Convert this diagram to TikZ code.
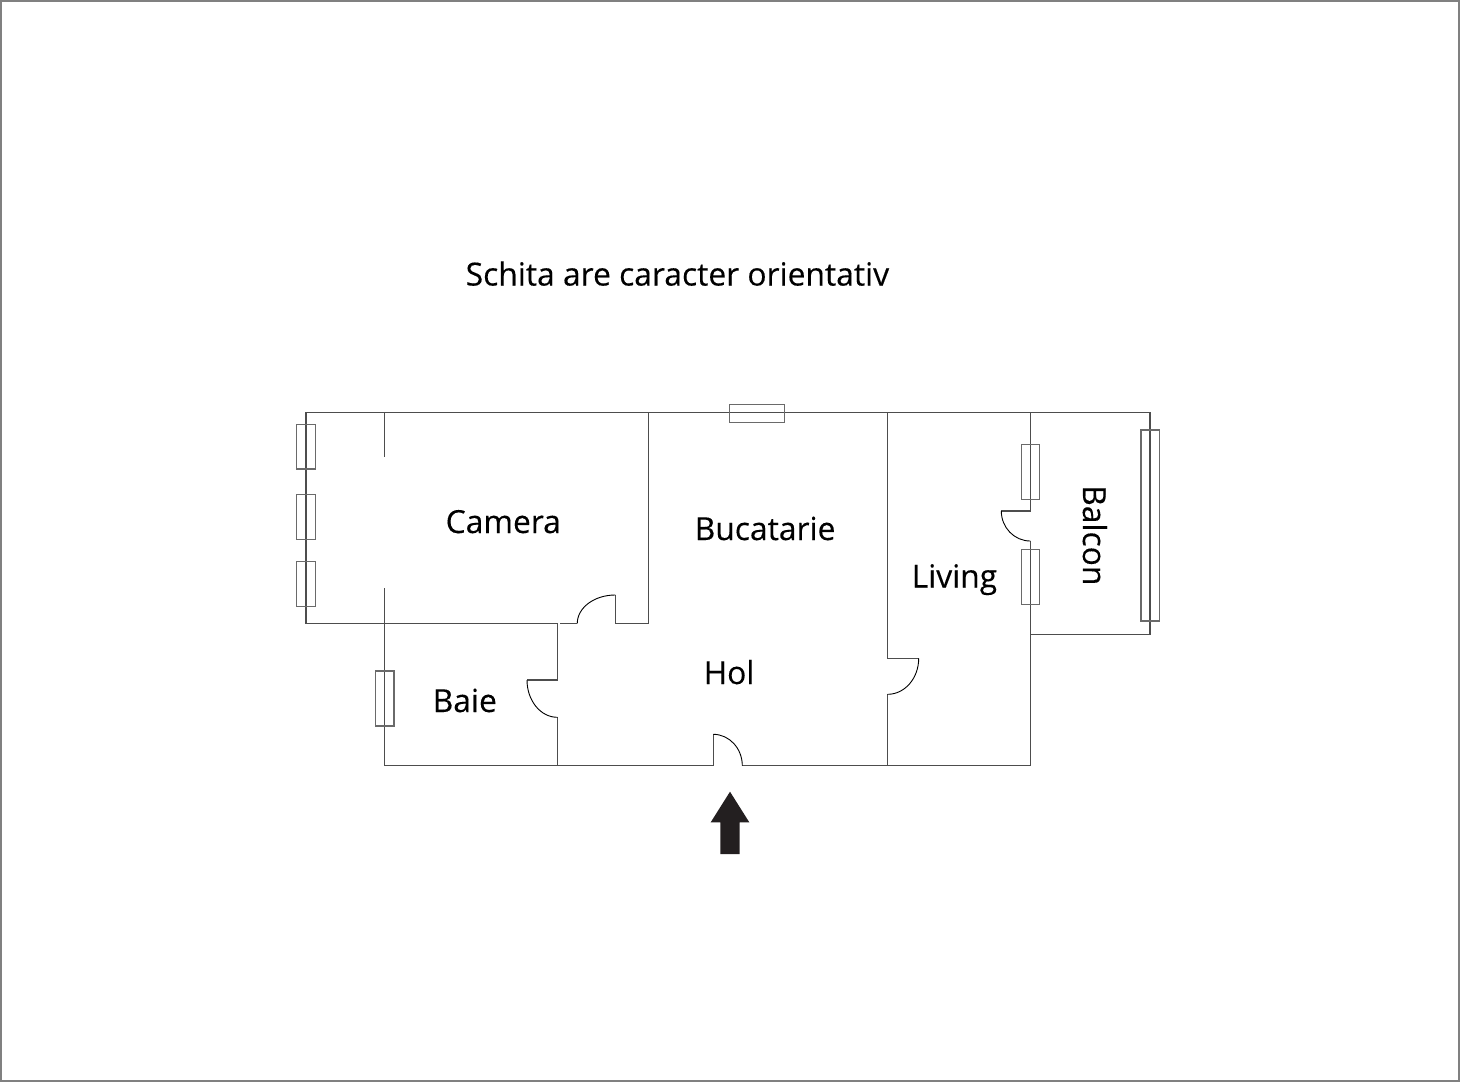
\documentclass[tikz,border=0pt]{standalone}
\usepackage{fontspec}
\setmainfont{Open Sans}[FakeBold=0.25]
\definecolor{framegray}{HTML}{808080}
\definecolor{wallgray}{HTML}{4D4D4D}
\definecolor{wingray}{HTML}{6A6A6A}
\definecolor{arrowblack}{HTML}{231F20}
\tikzset{
    wall/.style={draw=wallgray, line width=1.2pt},
    doorarc/.style={draw=black, line width=0.9pt},
    window/.style={draw=wingray, line width=1.3pt},
    room/.style={anchor=base west, inner sep=0pt, font=\fontsize{31.8}{38}\selectfont},
}
\begin{document}
\begin{tikzpicture}[x=1pt, y=-1pt]
            \useasboundingbox (0, 0) rectangle (1460, 1082);
            \draw[draw=framegray, line width=2pt] (1, 1) rectangle (1459, 1081);

            \node[room] at (465.5, 285.5)   (title) {Schita are caracter orientativ};
            \node[room] at (445.5, 533)     (camera) {Camera};
            \node[room] at (694.5, 540)     (bucatarie) {Bucatarie};
            \node[room] at (911.5, 587.5)   (living) {Living};
            \node[room] at (703.5, 684)     (hol) {Hol};
            \node[room] at (432.5, 712)     (baie) {Baie};
            \node[room, rotate=-90] at (1083, 485)   (balcon) {Balcon};

            % walls
            \draw[wall] (648.7, 412.7) -- (306, 412.7) -- (306, 623.3) -- (557.3, 623.3);
            \draw[wall] (648.7, 412.7) -- (1150, 412.7) -- (1150, 634.3) -- (1030.3, 634.3);
            \draw[wall] (384.7, 412.7) -- (384.7, 456.7);
            \draw[wall] (384.7, 588.3) -- (384.7, 765.7) -- (713.3, 765.7) -- (713.3, 734.3);
            \draw[wall] (742.3, 765.7) -- (1030.3, 765.7);
            \draw[wall] (560, 623.3) -- (577.3, 623.3);
            \draw[wall] (615.3, 595) -- (615.3, 623.3) -- (648.7, 623.3) -- (648.7, 412.7);
            \draw[wall] (557.3, 717.3) -- (557.3, 765.7);
            \draw[wall] (527, 680) -- (557.3, 680) -- (557.3, 623.3);
            \draw[wall] (887.7, 412.7) -- (887.7, 658.3) -- (918.7, 658.3);
            \draw[wall] (887.7, 694.3) -- (887.7, 765.7);
            \draw[wall] (1030.3, 412.7) -- (1030.3, 511) -- (1001.3, 511);
            \draw[wall] (1030.3, 541) -- (1030.3, 765.7);

            % doors
            \draw[doorarc] (577.3, 623.3) .. controls (577.3, 607.7) and (594.3, 595) .. (615.3, 595);
            \draw[doorarc] (527, 680) .. controls (527, 700.6) and (540.6, 717.3) .. (557.3, 717.3);
            \draw[doorarc] (713.3, 734.3) .. controls (729.3, 734.3) and (742.3, 748.4) .. (742.3, 765.7);
            \draw[doorarc] (918.7, 658.3) .. controls (918.7, 678.2) and (904.8, 694.3) .. (887.7, 694.3);
            \draw[doorarc] (1001.3, 511) .. controls (1001.3, 527.6) and (1014.3, 541) .. (1030.3, 541);

            % windows
            \foreach \ya/\yb in {424.3/469, 494.3/539.3, 561.7/606.7} {
                \draw[window] (296.7, \ya) rectangle (315.3, \yb);
            }
            \foreach \ya/\yb in {444.3/499.7, 549.7/604.7} {
                \draw[window] (1021.3, \ya) rectangle (1039.3, \yb);
            }
            \draw[window] (375.7, 671) rectangle (394, 726);
            \draw[window] (729.7, 404.3) rectangle (784.7, 422.7);
            \draw[window] (1141, 430) rectangle (1159.3, 621);

            % entrance arrow
            \fill[arrowblack] (730, 791.7) -- (749.3, 822.3) -- (739.7, 822.3) -- (739.7, 854)
                -- (720.3, 854) -- (720.3, 822.3) -- (710.7, 822.3) -- cycle;

        \end{tikzpicture}
\end{document}
